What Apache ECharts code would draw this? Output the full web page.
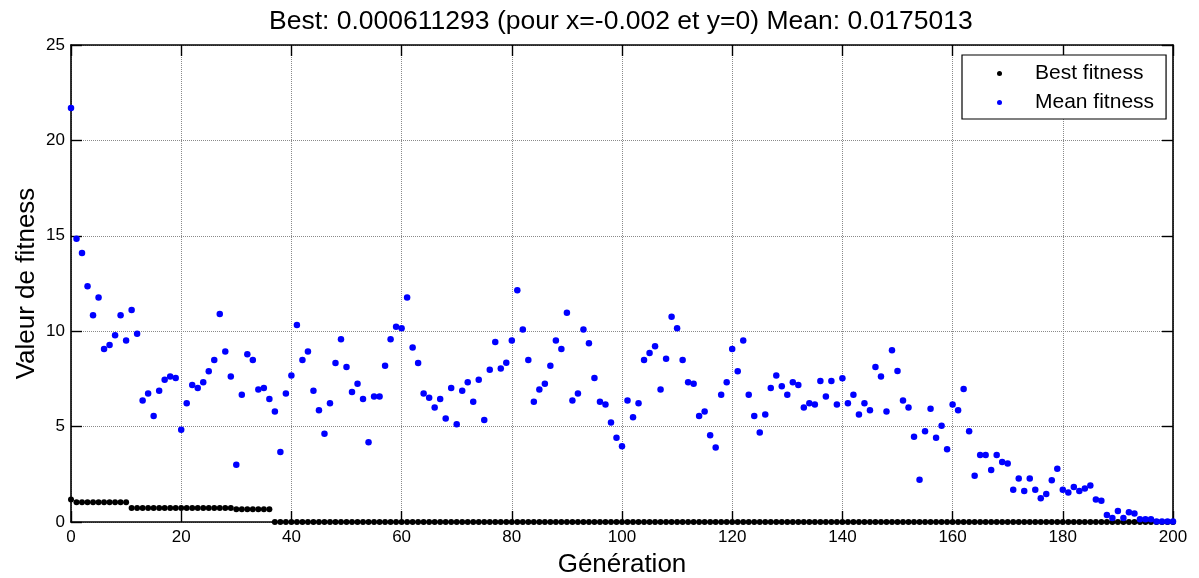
<!DOCTYPE html>
<html>
<head>
<meta charset="utf-8">
<script src="https://cdn.jsdelivr.net/npm/echarts@6/dist/echarts.min.js"></script>
<style>
html,body{margin:0;padding:0;background:#fff;}
#chart{width:1199px;height:578px;}
</style>
</head>
<body>
<div id="chart"></div>
<script>
const titleText = 'Best: 0.000611293 (pour x=-0.002 et y=0) Mean: 0.0175013';
const xName = 'Génération';
const yName = 'Valeur de fitness';
const seriesNames = ['Best fitness', 'Mean fitness'];
const xTicks = [0, 20, 40, 60, 80, 100, 120, 140, 160, 180, 200];
const yTicks = [0, 5, 10, 15, 20, 25];

const bestFitness = [
  1.18,
  1.04, 1.04, 1.04, 1.04, 1.04, 1.04, 1.04, 1.04, 1.04, 1.04,
  0.74, 0.74, 0.74, 0.74, 0.74, 0.74, 0.74, 0.74, 0.74, 0.74,
  0.74, 0.74, 0.74, 0.74, 0.74, 0.74, 0.74, 0.74, 0.74,
  0.67, 0.67, 0.67, 0.67, 0.67, 0.67, 0.67,
  0.001, 0.001, 0.001, 0.001, 0.001, 0.001, 0.001, 0.001, 0.001, 0.001,
  0.001, 0.001, 0.001, 0.001, 0.001, 0.001, 0.001, 0.001, 0.001, 0.001,
  0.001, 0.001, 0.001, 0.001, 0.001, 0.001, 0.001, 0.001, 0.001, 0.001,
  0.001, 0.001, 0.001, 0.001, 0.001, 0.001, 0.001, 0.001, 0.001, 0.001,
  0.001, 0.001, 0.001, 0.001, 0.001, 0.001, 0.001, 0.001, 0.001, 0.001,
  0.001, 0.001, 0.001, 0.001, 0.001, 0.001, 0.001, 0.001, 0.001, 0.001,
  0.001, 0.001, 0.001, 0.001, 0.001, 0.001, 0.001, 0.001, 0.001, 0.001,
  0.001, 0.001, 0.001, 0.001, 0.001, 0.001, 0.001, 0.001, 0.001, 0.001,
  0.001, 0.001, 0.001, 0.001, 0.001, 0.001, 0.001, 0.001, 0.001, 0.001,
  0.001, 0.001, 0.001, 0.001, 0.001, 0.001, 0.001, 0.001, 0.001, 0.001,
  0.001, 0.001, 0.001, 0.001, 0.001, 0.001, 0.001, 0.001, 0.001, 0.001,
  0.001, 0.001, 0.001, 0.001, 0.001, 0.001, 0.001, 0.001, 0.001, 0.001,
  0.001, 0.001, 0.001, 0.001, 0.001, 0.001, 0.001, 0.001, 0.001, 0.001,
  0.001, 0.001, 0.001, 0.001, 0.001, 0.001, 0.001, 0.001, 0.001, 0.001,
  0.001, 0.001, 0.001, 0.001, 0.001, 0.001, 0.001, 0.001, 0.001, 0.001,
  0.001, 0.001, 0.001, 0.001, 0.001, 0.001, 0.001, 0.001, 0.001, 0.001,
  0.001, 0.001, 0.001, 0.001
];

const meanFitness = [
  21.7, 14.84, 14.1, 12.35, 10.83, 11.77, 9.07, 9.28, 9.79, 10.83,
  9.51, 11.11, 9.86, 6.37, 6.74, 5.56, 6.88, 7.46, 7.62, 7.55,
  4.83, 6.23, 7.18, 7.02, 7.32, 7.9, 8.49, 10.9, 8.93, 7.62,
  3.0, 6.67, 8.79, 8.49, 6.95, 7.02, 6.44, 5.79, 3.67, 6.74,
  7.68, 10.32, 8.49, 8.93, 6.88, 5.86, 4.62, 6.23, 8.33, 9.58,
  8.12, 6.81, 7.25, 6.44, 4.18, 6.58, 6.58, 8.19, 9.58, 10.23,
  10.16, 11.77, 9.14, 8.33, 6.74, 6.51, 6.0, 6.44, 5.42, 7.02,
  5.12, 6.88, 7.32, 6.3, 7.46, 5.34, 7.98, 9.44, 8.05, 8.35,
  9.51, 12.14, 10.09, 8.49, 6.3, 6.95, 7.25, 8.19, 9.51, 9.07,
  10.97, 6.37, 6.74, 10.09, 9.37, 7.55, 6.3, 6.16, 5.21, 4.41,
  3.97, 6.37, 5.49, 6.23, 8.49, 8.86, 9.21, 6.95, 8.56, 10.76,
  10.16, 8.49, 7.32, 7.25, 5.56, 5.79, 4.55, 3.9, 6.67, 7.32,
  9.07, 7.9, 9.51, 6.67, 5.56, 4.69, 5.63, 7.02, 7.68, 7.11,
  6.67, 7.32, 7.18, 6.0, 6.23, 6.16, 7.39, 6.58, 7.39, 6.16,
  7.53, 6.23, 6.67, 5.63, 6.23, 5.86, 8.12, 7.62, 5.79, 9.0,
  7.91, 6.37, 6.0, 4.47, 2.21, 4.76, 5.93, 4.41, 5.05, 3.81,
  6.16, 5.86, 6.97, 4.76, 2.42, 3.51, 3.51, 2.72, 3.51, 3.14,
  3.07, 1.69, 2.28, 1.62, 2.28, 1.69, 1.25, 1.47, 2.19, 2.79,
  1.69, 1.55, 1.84, 1.62, 1.76, 1.91, 1.18, 1.11, 0.37, 0.21,
  0.58, 0.21, 0.51, 0.44, 0.14, 0.14, 0.14, 0.03, 0.02, 0.02,
  0.02
];

const FONT = '"Liberation Sans", Arial, Helvetica, sans-serif';
const toPairs = arr => arr.map((v, i) => [i, v]);

const TITLE_SIZE = 26.5;
const ctx = document.createElement('canvas').getContext('2d');
ctx.font = TITLE_SIZE + 'px "Liberation Sans"';
const titleW = ctx.measureText(titleText).width;
const plotLeft = 71, plotRight = 1173;
const titleLeft = Math.round((plotLeft + plotRight) / 2 - 1.5 - titleW / 2);

const chart = echarts.init(document.getElementById('chart'), null, {renderer: 'canvas'});

const axisLine = {show: true, onZero: false, lineStyle: {color: '#000', width: 1.6}};
const tickInside = {show: true, inside: true, length: 11, lineStyle: {color: '#000', width: 1.4}};
const gridLine = {show: true, lineStyle: {color: '#8a8a8a', width: 1, type: [1, 1]}};

chart.setOption({
  animation: false,
  backgroundColor: '#fff',
  textStyle: {fontFamily: FONT},
  title: {
    text: titleText,
    left: titleLeft,
    top: 8,
    padding: 0,
    textStyle: {fontSize: TITLE_SIZE, fontWeight: 'normal', color: '#000', fontFamily: FONT}
  },
  grid: {left: plotLeft, right: 1199 - plotRight, top: 45, bottom: 56, containLabel: false, outerBoundsMode: 'none'},
  legend: {
    data: seriesNames,
    orient: 'vertical',
    left: 962,
    top: 55,
    padding: [8, 12, 6, 35],
    itemGap: 8,
    itemWidth: 5,
    itemHeight: 5,
    icon: 'circle',
    backgroundColor: '#fff',
    borderColor: '#000',
    borderWidth: 1.2,
    textStyle: {fontSize: 21, color: '#000', fontFamily: FONT, padding: [0, 0, 0, 28]}
  },
  xAxis: [{
    type: 'value', min: xTicks[0], max: xTicks[xTicks.length - 1], interval: xTicks[1] - xTicks[0],
    position: 'bottom',
    name: xName, nameLocation: 'middle', nameGap: 30, nameMoveOverlap: false,
    nameTextStyle: {fontSize: 26, color: '#000', fontFamily: FONT},
    axisLine: axisLine, axisTick: tickInside,
    axisLabel: {fontSize: 17, color: '#000', margin: 7, fontFamily: FONT},
    splitLine: gridLine
  }, {
    type: 'value', min: xTicks[0], max: xTicks[xTicks.length - 1], interval: xTicks[1] - xTicks[0],
    position: 'top',
    axisLine: axisLine, axisTick: tickInside,
    axisLabel: {show: false}, splitLine: {show: false}
  }],
  yAxis: [{
    type: 'value', min: yTicks[0], max: yTicks[yTicks.length - 1], interval: yTicks[1] - yTicks[0],
    position: 'left',
    name: yName, nameLocation: 'middle', nameGap: 31, nameMoveOverlap: false,
    nameTextStyle: {fontSize: 26, color: '#000', fontFamily: FONT},
    axisLine: axisLine, axisTick: tickInside,
    axisLabel: {fontSize: 17, color: '#000', margin: 6, fontFamily: FONT},
    splitLine: gridLine
  }, {
    type: 'value', min: yTicks[0], max: yTicks[yTicks.length - 1], interval: yTicks[1] - yTicks[0],
    position: 'right',
    axisLine: axisLine, axisTick: tickInside,
    axisLabel: {show: false}, splitLine: {show: false}
  }],
  series: [{
    name: seriesNames[0],
    type: 'scatter',
    xAxisIndex: 0, yAxisIndex: 0,
    symbol: 'circle', symbolSize: 6,
    itemStyle: {color: '#000000', opacity: 1},
    data: toPairs(bestFitness)
  }, {
    name: seriesNames[1],
    type: 'scatter',
    xAxisIndex: 0, yAxisIndex: 0,
    symbol: 'circle', symbolSize: 6.5,
    itemStyle: {color: '#0000ff', opacity: 1},
    data: toPairs(meanFitness)
  }]
});
</script>
</body>
</html>
